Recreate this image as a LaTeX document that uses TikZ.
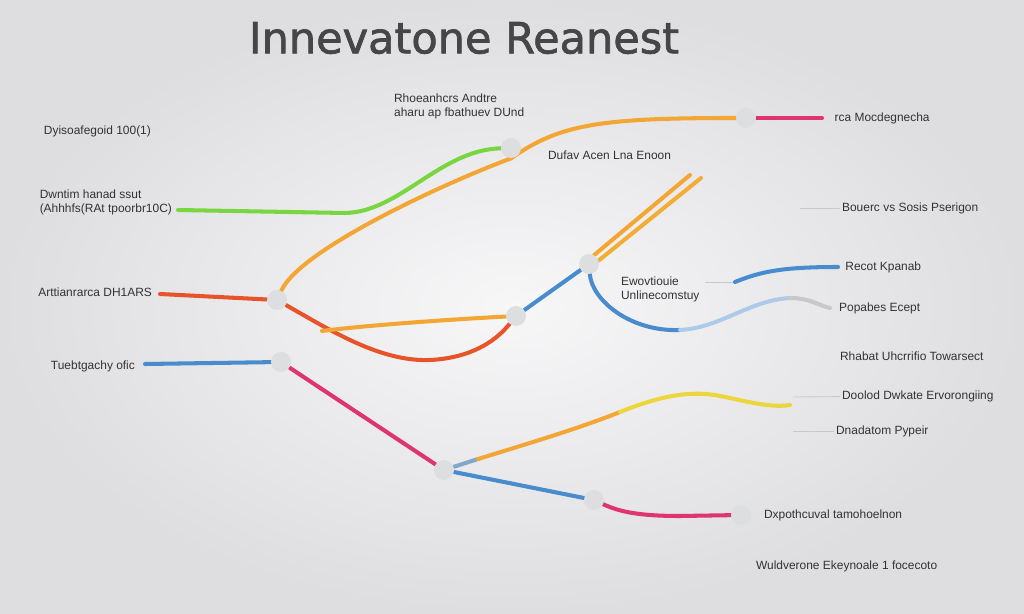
\documentclass[tikz,border=0pt]{standalone}
\usepackage{fontspec}
\setmainfont{Liberation Sans}
\newfontfamily\titlefont[FakeBold=1.6]{DejaVu Sans}
\usepackage{xcolor}
\usepackage{tikz}
\usetikzlibrary{positioning}
\definecolor{lgreen}{RGB}{122,214,64}
\definecolor{lorange}{RGB}{243,166,52}
\definecolor{lred}{RGB}{232,84,42}
\definecolor{lpink}{RGB}{222,52,112}
\definecolor{lblue}{RGB}{72,140,206}
\definecolor{lyellow}{RGB}{236,214,60}
\definecolor{dotgray}{RGB}{221,222,224}
\definecolor{leadgray}{RGB}{200,200,202}
\definecolor{txtgray}{RGB}{50,50,52}
\pgfdeclarelayer{bg}
\pgfdeclarelayer{wires}
\pgfsetlayers{bg,wires,main}

\begin{document}
\begin{tikzpicture}[x=0.02cm, y=-0.02cm,
    dot/.style={circle, fill=dotgray, minimum size=0.4cm, inner sep=0pt},
    wire/.style={line width=2.3pt, line cap=round},
    lead/.style={line width=0.5pt, draw=leadgray},
    lbl/.style={font=\fontsize{6.8}{8}\selectfont, text=txtgray, inner sep=1pt, align=left}]
    \useasboundingbox (0,0) rectangle (1024,614);
    \begin{pgfonlayer}{bg}
        \shade[inner color={rgb,255:red,247;green,247;blue,248}, outer color={rgb,255:red,222;green,222;blue,225}] (0,0) rectangle (1024,614);
    \end{pgfonlayer}

    % TITLE
    \node[font=\titlefont\fontsize{24.5}{29}\selectfont, text={rgb,255:red,70;green,70;blue,72}] (title) at (464,38) {Innevatone Reanest};

    % HUB NODES
    \node[dot] (n1) at (511,148) {};
    \node[dot] (n2) at (746,118) {};
    \node[dot] (n3) at (277,300) {};
    \node[dot] (n4) at (281,362) {};
    \node[dot] (n5) at (589,264) {};
    \node[dot] (n6) at (516,316) {};
    \node[dot] (n7) at (444,470) {};
    \node[dot] (n8) at (594,500) {};
    \node[dot] (n9) at (741,515) {};

    % FREE ENDS
    \coordinate (gA) at (178,210);
    \coordinate (rA) at (160,294);
    \coordinate (bA) at (145,364);
    \coordinate (pkE) at (822,118);
    \coordinate (oA) at (322,331);
    \coordinate (tA) at (690,175);
    \coordinate (tB) at (701,178);
    \coordinate (pE) at (830,308);
    \coordinate (rkS) at (735,282);
    \coordinate (rkE) at (838,267);
    \coordinate (yE) at (790,405);

    % LEFT LABELS
    \node[lbl, anchor=east] (lDy) at (153,131) {Dyisoafegoid 100(1)};
    \node[lbl, anchor=east] (lDw) at (174,202) {Dwntim hanad ssut\\(Ahhhfs(RAt tpoorbr10C)};
    \node[lbl, anchor=west] (lRh) at (392,106) {Rhoeanhcrs Andtre\\aharu ap fbathuev DUnd};
    \node[lbl, anchor=east] (lAr) at (154,292) {Arttianrarca DH1ARS};
    \node[lbl, anchor=east] (lTu) at (137,366) {Tuebtgachy ofic};

    % RIGHT LABELS
    \node[lbl, right=6pt of pkE] (lRc) {rca Mocdegnecha};
    \node[lbl, anchor=west] (lDu) at (546,155) {Dufav Acen Lna Enoon};
    \node[lbl, anchor=west] (lBo) at (840,208) {Bouerc vs Sosis Pserigon};
    \node[lbl, right=3pt of rkE] (lRe) {Recot Kpanab};
    \node[lbl, anchor=west] (lEw) at (619,289) {Ewovtiouie\\Unlinecomstuy};
    \node[lbl, right=4pt of pE] (lPo) {Popabes Ecept};
    \node[lbl, anchor=west] (lRha) at (838,356) {Rhabat Uhcrrifio Towarsect};
    \node[lbl, anchor=west] (lDo) at (840,396) {Doolod Dwkate Ervorongiing};
    \node[lbl, anchor=west] (lDn) at (834,431) {Dnadatom Pypeir};
    \node[lbl, right=6pt of n9] (lDx) {Dxpothcuval tamohoelnon};
    \node[lbl, anchor=west] (lWu) at (754,566) {Wuldverone Ekeynoale 1 focecoto};

    \begin{pgfonlayer}{wires}
        % TOP BRANCHES
        \draw[wire, lgreen] (gA) -- (345,213) .. controls (400,212) and (440,150) .. (n1);
        \draw[wire, lorange] (n3) .. controls (300,250) and (440,185) .. (n1.south);
        \draw[wire, lorange] (n1.south) .. controls (560,124) and (600,118) .. (n2);
        \draw[wire, lpink] (n2) -- (pkE);

        % MIDDLE BRANCHES
        \draw[wire, lred] (rA) -- (n3);
        \draw[wire, lred] (n3) .. controls (330,330) and (380,362) .. (430,360) .. controls (470,358) and (495,342) .. (n6);
        \draw[wire, lorange] (n6) .. controls (440,320) and (360,326) .. (oA);
        \draw[wire, lblue] (n6) -- (n5);
        \draw[wire, lorange] (n5.60) -- (tA);
        \draw[wire, lorange!85!lyellow] (n5.20) -- (tB);
        \draw[wire, lblue] (n5) .. controls (592,300) and (630,332) .. (680,330);
        \draw[wire, lblue!45!white] (680,330) .. controls (720,328) and (750,300) .. (790,298);
        \draw[wire, leadgray] (790,298) .. controls (810,298) and (820,306) .. (pE);
        \draw[lead] (705,282) -- (rkS);
        \draw[wire, lblue] (rkS) .. controls (760,272) and (780,267) .. (rkE);

        % BOTTOM BRANCHES
        \draw[wire, lblue] (bA) -- (n4);
        \draw[wire, lpink] (n4) -- (n7);
        \draw[wire, lblue!55!leadgray] (n7) -- (478,459);
        \draw[wire, lorange] (478,459) .. controls (530,443) and (580,428) .. (620,412);
        \draw[wire, lyellow] (620,412) .. controls (660,396) and (690,390) .. (720,396) .. controls (750,402) and (770,408) .. (yE);
        \draw[wire, lblue] (n7) -- (n8);
        \draw[wire, lpink] (n8) .. controls (620,512) and (640,516) .. (680,516) -- (n9);

        % LEADERS
        \draw[lead] (800,208) -- (lBo);
        \draw[lead] (793,397) -- (lDo);
        \draw[lead] (793,431) -- (lDn);
    \end{pgfonlayer}
\end{tikzpicture}
\end{document}
